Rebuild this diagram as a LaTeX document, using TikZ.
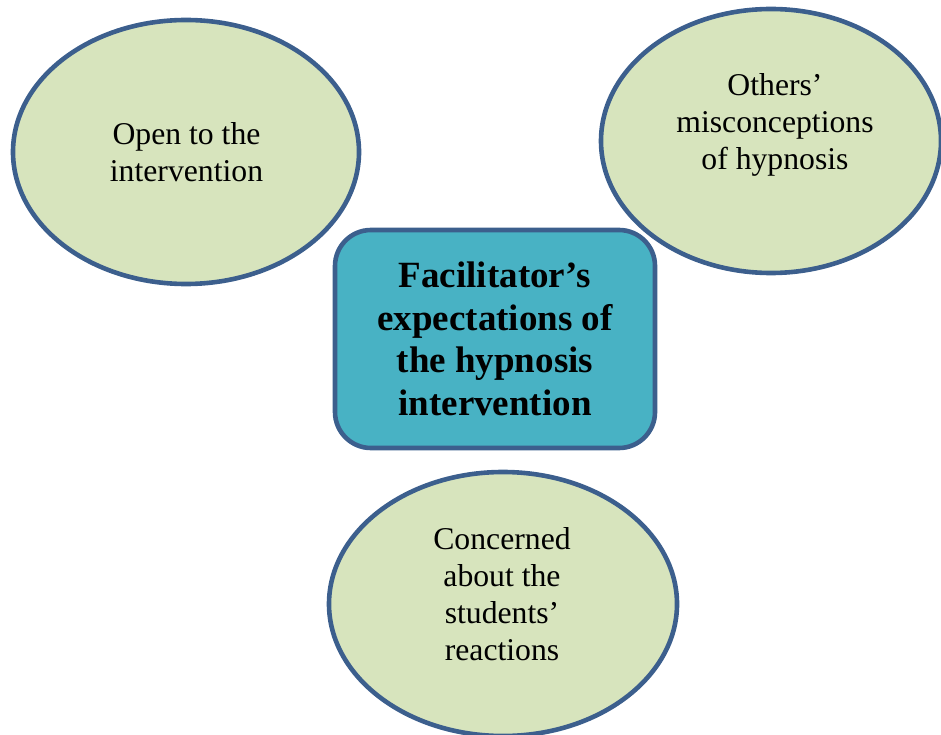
\documentclass[tikz,border=0pt]{standalone}
\usepackage{fontspec}
\setmainfont{Liberation Serif}
\usetikzlibrary{shapes.geometric}
\definecolor{rimblue}{HTML}{3C5F8D}
\definecolor{sage}{HTML}{D7E4BD}
\definecolor{teal}{HTML}{48B2C4}
\tikzset{
  idea/.style={ellipse, draw=rimblue, fill=sage, line width=4.6pt, inner sep=0pt},
  hub/.style={rectangle, rounded corners=36pt, draw=rimblue, fill=teal, line width=4.6pt, inner sep=0pt},
  ideatext/.style={align=center, inner sep=0pt, font=\fontsize{31.7}{37}\selectfont},
  hubtext/.style={align=center, inner sep=0pt, font=\fontsize{37}{42.5}\selectfont\bfseries}
}
\begin{document}
\begin{tikzpicture}[x=1pt, y=-1pt]
  \useasboundingbox (0,0) rectangle (941,735);
  % three themes around the central box
  \node[idea, minimum width=346pt, minimum height=264pt] (open) at (186,152) {};
  \node[idea, minimum width=340pt, minimum height=264pt] (others) at (771,141) {};
  \node[idea, minimum width=348pt, minimum height=264pt] (concern) at (503,604) {};
  % central box
  \node[hub, minimum width=320pt, minimum height=218pt] (core) at (495,339) {};
  % labels
  \node[ideatext] (opentext) at (186.5,151.7) {Open to the\\intervention};
  \node[ideatext] (otherstext) at (775,125) {Others’\\misconceptions\\of hypnosis};
  \node[ideatext] (concerntext) at (502,594) {Concerned\\about the\\students’\\reactions};
  \node[hubtext] (coretext) at (495,339) {Facilitator’s\\expectations of\\the hypnosis\\intervention};
\end{tikzpicture}
\end{document}
